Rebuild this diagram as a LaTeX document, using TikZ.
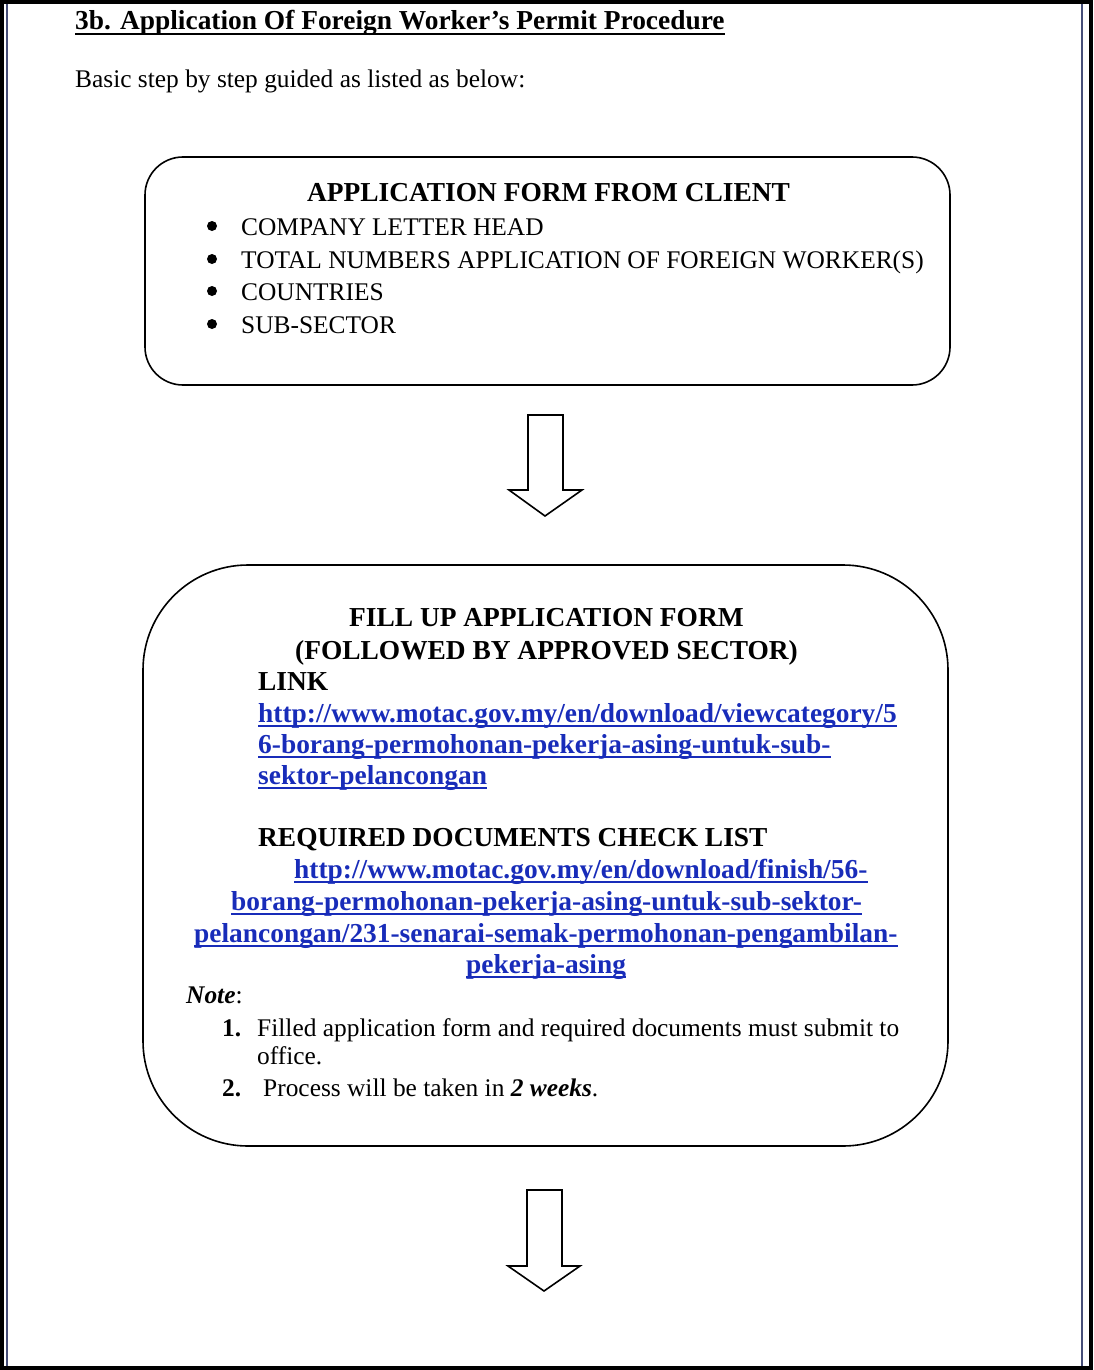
\documentclass[tikz,border=0pt]{standalone}
\usepackage{fontspec}
\setmainfont{Liberation Serif}
\definecolor{linkblue}{RGB}{24,44,185}
\definecolor{edgeblue}{RGB}{70,78,120}

\tikzset{
  txt/.style={anchor=base west, inner sep=0pt, font=\fontsize{25.4}{31}\selectfont},
  hdr/.style={txt, font=\fontsize{27.4}{33}\selectfont\bfseries},
  ul/.style={append after command={([yshift=-4pt]\tikzlastnode.base west) edge[draw=#1, line width=2pt] ([yshift=-4pt]\tikzlastnode.base east)}},
  ul/.default=black,
  link/.style={hdr, text=linkblue, ul=linkblue},
  dot/.style={circle, fill, inner sep=0pt, minimum size=10pt},
  procbox/.style={draw, line width=1.6pt, rounded corners=#1, minimum width=805pt},
}

\begin{document}
\begin{tikzpicture}[x=1pt, y=-1pt]
        \useasboundingbox (0,0) rectangle (1093,1370);
        \draw[line width=4pt] (2,2) rectangle (1091,1368); % scan frame
        \draw[edgeblue, line width=2pt] (7,4) -- (7,1366);
        \draw[edgeblue, line width=2pt] (1082,4) -- (1082,1366);

        \node[hdr, ul] (title) at (75,30) {3b. Application Of Foreign Worker’s Permit Procedure};
        \node[txt] (intro) at (75,88) {Basic step by step guided as listed as below:};

        % first step
        \node[procbox=38pt, minimum height=228pt] (client) at (547.5,271) {};
        \node[hdr] (clienthd) at (307,201) {APPLICATION FORM FROM CLIENT};
        \foreach \y/\item in {235/COMPANY LETTER HEAD,
                              268/TOTAL NUMBERS APPLICATION OF FOREIGN WORKER(S),
                              300/COUNTRIES,
                              333/SUB-SECTOR} {
            \node[dot] at (212,\y-9) {};
            \node[txt] at (241,\y) {\item};
        }

        \draw[line width=1.6pt, line join=mitre] (528,415) -- ++(35,0) -- ++(0,75) -- ++(19,0) -- ++(-37,26) -- ++(-36,-26) -- ++(19,0) -- cycle;

        % second step
        \node[procbox=105pt, minimum height=581pt] (form) at (545.5,855.5) {};
        \node[hdr] (formhd) at (349,626) {FILL UP APPLICATION FORM};
        \node[hdr] (formsub) at (295,659) {(FOLLOWED BY APPROVED SECTOR)};
        \node[hdr] (linkhd) at (258,690) {LINK};
        \node[link] (linka) at (258,722) {http://www.motac.gov.my/en/download/viewcategory/5};
        \node[link] (linkb) at (258,753) {6-borang-permohonan-pekerja-asing-untuk-sub-};
        \node[link] (linkc) at (258,784) {sektor-pelancongan};
        \node[hdr] (checkhd) at (258,846) {REQUIRED DOCUMENTS CHECK LIST};
        \node[link] (checka) at (294,878) {http://www.motac.gov.my/en/download/finish/56-};
        \node[link] (checkb) at (231,910) {borang-permohonan-pekerja-asing-untuk-sub-sektor-};
        \node[link] (checkc) at (194,942) {pelancongan/231-senarai-semak-permohonan-pengambilan-};
        \node[link] (checkd) at (466,973) {pekerja-asing};
        \node[txt] (note) at (186,1003) {\textbf{\textit{Note}}:};
        \node[txt] (n1) at (222,1036) {\textbf{1.}};
        \node[txt] (n1a) at (257,1036) {Filled application form and required documents must submit to};
        \node[txt] (n1b) at (257,1064) {office.};
        \node[txt] (n2) at (222,1096) {\textbf{2.}};
        \node[txt] (n2a) at (263,1096) {Process will be taken in \textbf{\textit{2 weeks}}.};

        \draw[line width=1.6pt, line join=mitre] (527,1190) -- ++(35,0) -- ++(0,76) -- ++(18,0) -- ++(-36,25) -- ++(-36,-25) -- ++(19,0) -- cycle;
    \end{tikzpicture}
\end{document}
